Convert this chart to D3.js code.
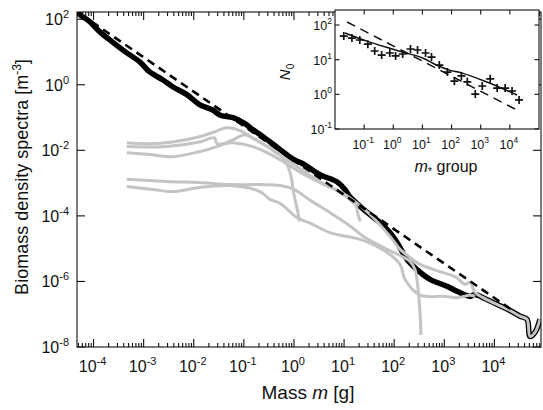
<!DOCTYPE html>
<html><head><meta charset="utf-8">
<script src="https://cdn.jsdelivr.net/npm/d3@7"></script>
<style>body{margin:0;background:#fff} text{font-family:"Liberation Sans",Arial,Helvetica,sans-serif;fill:#111}</style>
</head><body><svg id="c" width="543" height="410"></svg>
<script>
// ---- main spectrum (black) ----
const blackMass = [4.7e-5,5.4e-5,8.5e-5,1.34e-4,2.4e-4,4.6e-4,8.4e-4,1.3e-3,2.4e-3,3.8e-3,7.3e-3,1.3e-2,2.4e-2,3.3e-2,6.1e-2,0.105,0.15,0.26,0.53,1.0,1.5,3.3,7.2,10.4,13,18,29,52,82,114,180,285,519,1130,1790,3260,4100,5920,11270,20500,32400,44700,51400,64600,81300];
const blackBio  = [167,135,83,41,20,9.4,5.0,2.5,1.42,0.87,0.50,0.25,0.17,0.12,9.9e-2,6.5e-2,4.3e-2,2.4e-2,1.05e-2,5.2e-3,3.9e-3,1.8e-3,1.1e-3,6.4e-4,3.8e-4,2.4e-4,1.27e-4,6.3e-5,3.1e-5,1.55e-5,4.7e-6,2.3e-6,1.16e-6,7.1e-7,5.0e-7,3.5e-7,4.0e-7,3.2e-7,2.0e-7,1.3e-7,8.7e-8,7.0e-8,2.1e-8,2.8e-8,7.0e-8];
// ---- gray spectra ----
const grayMassA = [4.6e-4,1.3e-3,3.8e-3,1.3e-2,2.4e-2,4.6e-2,8.4e-2,0.15,0.29,0.53,1.0,3.3,10.4,33,82,131,207,327,820,1640,2590,3260,4100,5920,11270,20500,32400,44700,51400,64600,81300];
const grayBioA  = [1.7e-2,1.6e-2,1.8e-2,2.6e-2,3.5e-2,4.9e-2,4.0e-2,2.4e-2,1.3e-2,6.9e-3,3.7e-3,1.1e-3,4.5e-4,1.1e-4,2.4e-5,9.5e-6,5.4e-6,3.3e-6,2.0e-6,1.4e-6,8.2e-7,9.4e-7,4.7e-7,3.2e-7,2.0e-7,1.3e-7,8.7e-8,7.0e-8,2.1e-8,2.8e-8,7.0e-8];
const grayMassB = [4.6e-4,2.9e-3,1.3e-2,2.6e-2,2.9e-2,6.1e-2,0.15,0.29,0.66,1.3,3.3,8.3,13,17,19,21];
const grayBioB  = [1.3e-2,1.3e-2,1.8e-2,2.4e-2,1.6e-2,1.7e-2,1.3e-2,8.5e-3,4.2e-3,2.2e-3,1.04e-3,5.2e-4,3.2e-4,2.2e-4,1.1e-4,6.8e-5];
const grayMassC = [4.6e-4,1.3e-3,3.8e-3,1.3e-2,2.9e-2,6.1e-2,0.105,0.17,0.33,0.60,0.83,1.0,1.2,1.3];
const grayBioC  = [8.5e-3,7.4e-3,6.4e-3,9.1e-3,1.3e-2,2.1e-2,3.0e-2,2.1e-2,1.2e-2,6.0e-3,2.2e-3,4.5e-4,1.27e-4,6.8e-5];
const grayMassD = [4.6e-4,1.3e-3,3.8e-3,1.3e-2,5.3e-2,0.21,0.53,1.0,2.1,5.2,13,24,72,131,207,260,313,343];
const grayBioD  = [1.3e-3,1.2e-3,1.1e-3,1.04e-3,9.0e-4,9.0e-4,8.4e-4,6.4e-4,3.0e-4,1.27e-4,5.0e-5,2.4e-5,9.5e-6,6.2e-6,4.1e-6,2.3e-6,2.9e-7,2.3e-8];
const grayMassE = [4.6e-4,1.5e-3,3.8e-3,1.3e-2,5.3e-2,0.21,0.33,0.53,1.15,2.1,5.2,24,72,131,164,327,1030,1790,3260,4100];
const grayBioE  = [7.9e-4,6.4e-4,5.5e-4,7.3e-4,8.4e-4,5.5e-4,3.2e-4,2.4e-4,8.9e-5,6.0e-5,3.1e-5,1.8e-5,7.7e-6,3.3e-6,1.16e-6,3.8e-7,3.5e-7,3.2e-7,3.8e-7,3.5e-7];
// ---- dashed reference line (main) ----
const refMass = [9.3e-5, 21600];
const refBio  = [83, 1.4e-7];
// ---- inset ----
const insetMass = [0.020,0.038,0.071,0.134,0.23,0.40,0.76,1.2,2.1,3.9,6.8,12.8,20.5,38,72,125,217,347,651,1130,2120,3670,6890,11900,20700];
const insetN0   = [48,42,37,28,17.8,13.6,15.6,12.8,14.6,20.3,19,15.6,11.9,7.0,4.4,2.4,3.4,2.3,1.02,1.74,2.8,1.52,1.52,1.25,0.69];
const fitMass = [0.022,0.157,2.1,10.1,30,84,234,1550,17700];
const fitN0   = [59,32,16.6,11.2,7.0,5.0,4.1,2.3,0.96];
const dashMass = [0.026, 17700];
const dashN0   = [122, 0.35];
// tick exponents
const mainXExp = [-4,-3,-2,-1,0,1,2,3,4];
const mainYExp = [-8,-6,-4,-2,0,2];
const insetXExp = [-1,0,1,2,3,4];
const insetYExp = [-1,0,1,2];

const svg = d3.select('#c');
const M = {l:77, r:541, t:12, b:347};
const x = d3.scaleLog().domain([10**-4.33, 10**4.93]).range([M.l, M.r]);
const y = d3.scaleLog().domain([1e-8, 10**2.22]).range([M.b, M.t]);

svg.append('clipPath').attr('id','mc').append('rect')
  .attr('x',M.l).attr('y',M.t).attr('width',M.r-M.l).attr('height',M.b-M.t);

const line = d3.line().x(d=>x(d[0])).y(d=>y(d[1])).curve(d3.curveCatmullRom.alpha(0.5));
const zip = (a,b)=>a.map((v,i)=>[v,b[i]]);
const g = svg.append('g').attr('clip-path','url(#mc)');

g.append('path').attr('d', line(zip(blackMass,blackBio)))
  .attr('fill','none').attr('stroke','#000').attr('stroke-width',5.5).attr('stroke-linejoin','round');
[[grayMassB,grayBioB],[grayMassC,grayBioC],[grayMassD,grayBioD],[grayMassE,grayBioE],[grayMassA,grayBioA]].forEach(([m,b])=>{
  g.append('path').attr('d', line(zip(m,b)))
    .attr('fill','none').attr('stroke','#c4c4c4').attr('stroke-width',3).attr('stroke-linejoin','round');
});
g.append('path').attr('d', d3.line().x(d=>x(d[0])).y(d=>y(d[1]))(zip(refMass,refBio)))
  .attr('fill','none').attr('stroke','#000').attr('stroke-width',2.6).attr('stroke-dasharray','8,5.5');

// axes box
const ax = svg.append('g').attr('stroke','#111').attr('stroke-width',1.1);
ax.append('rect').attr('x',M.l).attr('y',M.t).attr('width',M.r-M.l).attr('height',M.b-M.t).attr('fill','none');
const xd = x.domain();
for (let e=-5; e<=4; e++) {
  for (let k=1; k<=9; k++) {
    const v = k*10**e;
    if (v < xd[0] || v > xd[1]) continue;
    const len = k===1 ? 8 : 4;
    const px = x(v);
    ax.append('line').attr('x1',px).attr('x2',px).attr('y1',M.b).attr('y2',M.b-len);
    ax.append('line').attr('x1',px).attr('x2',px).attr('y1',M.t).attr('y2',M.t+len);
  }
}
mainYExp.forEach(e=>{
  const py = y(10**e);
  ax.append('line').attr('x1',M.l).attr('x2',M.l+8).attr('y1',py).attr('y2',py);
  ax.append('line').attr('x1',M.r).attr('x2',M.r-8).attr('y1',py).attr('y2',py);
});
function powLabel(sel, e, fs, sfs, dy) {
  sel.append('tspan').text('10');
  sel.append('tspan').attr('dy',-dy).attr('font-size',sfs).text(e);
}
mainXExp.forEach(e=>{
  const t = svg.append('text').attr('x',x(10**e)-1).attr('y',372).attr('text-anchor','middle').attr('font-size',16);
  powLabel(t, e, 16, 11, 7);
});
mainYExp.forEach(e=>{
  const t = svg.append('text').attr('x',69).attr('y',y(10**e)+6).attr('text-anchor','end').attr('font-size',16);
  powLabel(t, e, 16, 11, 7);
});
const xl = svg.append('text').attr('x',308).attr('y',399).attr('text-anchor','middle').attr('font-size',19);
xl.append('tspan').text('Mass ');
xl.append('tspan').attr('font-style','italic').text('m');
xl.append('tspan').text(' [g]');
const yl = svg.append('text').attr('transform','translate(28,177) rotate(-90)').attr('text-anchor','middle').attr('font-size',18);
yl.append('tspan').text('Biomass density spectra [m');
yl.append('tspan').attr('dy',-7).attr('font-size',12).text('-3');
yl.append('tspan').attr('dy',7).text(']');

// ---- inset ----
const I = {l:335, r:539, t:10, b:129};
const xi = d3.scaleLog().domain([1e-2, 1e5]).range([I.l, I.r]);
const yi = d3.scaleLog().domain([0.1, 10**2.433]).range([I.b, I.t]);
svg.append('rect').attr('x',I.l).attr('y',I.t).attr('width',I.r-I.l).attr('height',I.b-I.t)
  .attr('fill','#fff').attr('stroke','#111').attr('stroke-width',1.1);
const ia = svg.append('g').attr('stroke','#111').attr('stroke-width',1.1);
insetXExp.forEach(e=>{
  const px = xi(10**e);
  ia.append('line').attr('x1',px).attr('x2',px).attr('y1',I.b).attr('y2',I.b-4.5);
  ia.append('line').attr('x1',px).attr('x2',px).attr('y1',I.t).attr('y2',I.t+4.5);
  const t = svg.append('text').attr('x',px-1).attr('y',149).attr('text-anchor','middle').attr('font-size',12.5);
  powLabel(t, e, 12.5, 8.5, 6);
});
insetYExp.forEach(e=>{
  const py = yi(10**e);
  ia.append('line').attr('x1',I.l).attr('x2',I.l+4.5).attr('y1',py).attr('y2',py);
  ia.append('line').attr('x1',I.r).attr('x2',I.r-4.5).attr('y1',py).attr('y2',py);
  const t = svg.append('text').attr('x',332).attr('y',py+5).attr('text-anchor','end').attr('font-size',12.5);
  powLabel(t, e, 12.5, 8.5, 6);
});
const li = d3.line().x(d=>xi(d[0])).y(d=>yi(d[1]));
svg.append('path').attr('d', li(zip(dashMass,dashN0))).attr('fill','none').attr('stroke','#111')
  .attr('stroke-width',1.5).attr('stroke-dasharray','9,6');
svg.append('path').attr('d', li.curve(d3.curveCatmullRom.alpha(0.5))(zip(fitMass,fitN0))).attr('fill','none').attr('stroke','#111').attr('stroke-width',1.5);
zip(insetMass, insetN0).forEach(d=>{
  const cx = xi(d[0]), cy = yi(d[1]);
  svg.append('path').attr('d',`M${cx-4},${cy}H${cx+4}M${cx},${cy-4}V${cy+4}`)
    .attr('stroke','#111').attr('stroke-width',1.7).attr('fill','none');
});
const iyl = svg.append('text').attr('transform','translate(290,72) rotate(-90)').attr('text-anchor','middle').attr('font-size',15);
iyl.append('tspan').attr('font-style','italic').text('N');
iyl.append('tspan').attr('dy',4).attr('font-size',10).text('0');
const ixl = svg.append('text').attr('x',446).attr('y',172).attr('text-anchor','middle').attr('font-size',16);
ixl.append('tspan').attr('font-style','italic').text('m');
ixl.append('tspan').attr('dy',3).attr('font-size',11).text('*');
ixl.append('tspan').attr('dy',-3).text(' group');
</script></body></html>
